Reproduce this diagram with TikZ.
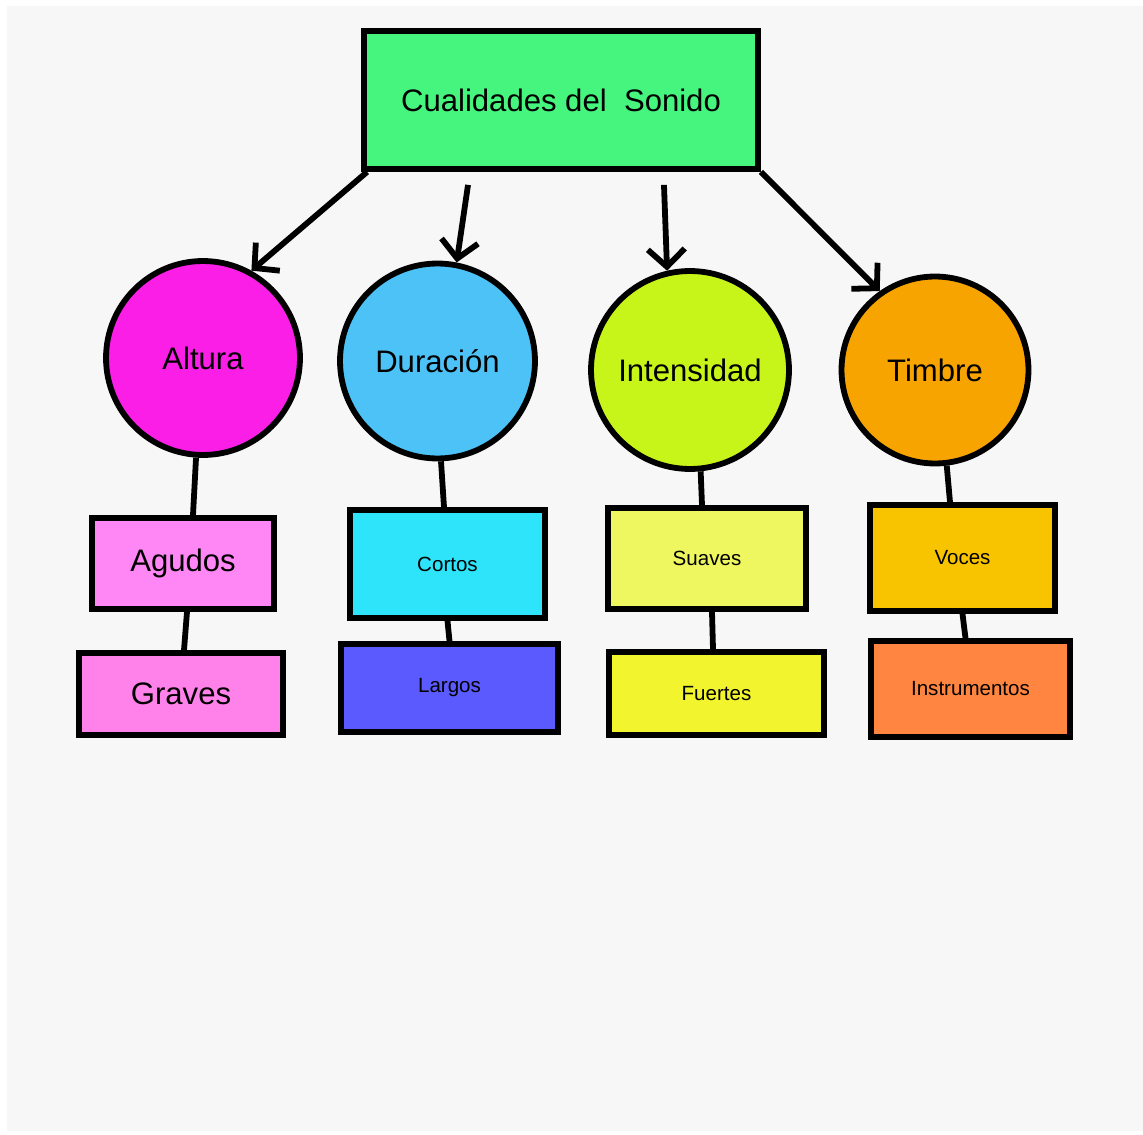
\documentclass[tikz,border=0pt]{standalone}
\usepackage{fontspec}
\setmainfont{Liberation Sans}
\usetikzlibrary{arrows.meta}
\definecolor{fondo}{RGB}{247,247,247}
\definecolor{verde}{RGB}{70,245,125}
\definecolor{magenta}{RGB}{250,30,230}
\definecolor{celeste}{RGB}{77,194,247}
\definecolor{lima}{RGB}{200,245,25}
\definecolor{naranja}{RGB}{247,163,0}
\definecolor{rosa}{RGB}{255,135,245}
\definecolor{rosab}{RGB}{255,130,235}
\definecolor{cian}{RGB}{45,228,250}
\definecolor{azul}{RGB}{90,90,255}
\definecolor{amarillo}{RGB}{238,247,95}
\definecolor{amarillob}{RGB}{242,245,45}
\definecolor{oro}{RGB}{248,196,0}
\definecolor{coral}{RGB}{255,133,64}
\tikzset{
  caja/.style={draw, line width=3.3pt, inner sep=0pt},
  circulo/.style={caja, circle},
  grande/.style={font=\fontsize{17.7}{20}\selectfont},
  chica/.style={font=\fontsize{11.7}{14}\selectfont},
  linea/.style={line width=3.3pt},
  flecha/.style={linea, -{Straight Barb[length=10pt,width=21pt]}}
}
\begin{document}
\begin{tikzpicture}[x=0.02cm,y=-0.02cm]

\useasboundingbox (0,0) rectangle (1143,1135);
\fill[fondo] (7,6) rectangle (1143,1131);
\node[caja, grande, fill=verde, minimum width=7.88cm, minimum height=2.76cm] (cual) at (561,100) {Cualidades del~~Sonido};
\node[circulo, grande, fill=magenta, minimum size=3.88cm] (alt) at (203,358) {Altura};
\node[circulo, grande, fill=celeste, minimum size=3.9cm] (dur) at (437.5,361) {Duración};
\node[circulo, grande, fill=lima, minimum size=3.96cm] (int) at (690,370) {Intensidad};
\node[circulo, grande, fill=naranja, minimum size=3.74cm] (tim) at (935,370) {Timbre};
\node[caja, grande, fill=rosa, minimum width=3.64cm, minimum height=1.82cm] (agu) at (183,563.5) {Agudos};
\node[caja, grande, fill=rosab, minimum width=4.08cm, minimum height=1.64cm] (gra) at (181,694) {Graves};
\node[caja, chica, fill=cian, minimum width=3.9cm, minimum height=2.16cm] (cor) at (447.5,564) {Cortos};
\node[caja, chica, fill=azul, minimum width=4.34cm, minimum height=1.76cm] (lar) at (449.5,688) {Largos};
\node[caja, chica, fill=amarillo, minimum width=3.96cm, minimum height=2.02cm] (sua) at (707,558.5) {Suaves};
\node[caja, chica, fill=amarillob, minimum width=4.3cm, minimum height=1.66cm] (fue) at (716.5,693.5) {Fuertes};
\node[caja, chica, fill=oro, minimum width=3.7cm, minimum height=2.12cm] (voc) at (962.5,558) {Voces};
\node[caja, chica, fill=coral, minimum width=3.98cm, minimum height=1.92cm] (ins) at (970.5,689) {Instrumentos};
\draw[flecha] ([xshift=0.12cm]cual.south west) -- (alt.61);
\draw[flecha] ([xshift=-1.86cm,yshift=-0.26cm]cual.south) -- (dur.79);
\draw[flecha] ([xshift=2.06cm,yshift=-0.26cm]cual.south) -- (int.103);
\draw[flecha] (cual.south east) -- (tim.125);
\draw[linea] (alt.266) -- ([xshift=0.2cm]agu.north);
\draw[linea] ([xshift=0.08cm]agu.south) -- ([xshift=0.06cm]gra.north);
\draw[linea] (dur.272) -- ([xshift=-0.07cm]cor.north);
\draw[linea] (cor.south) -- (lar.north);
\draw[linea] (int.276) -- ([xshift=-0.1cm]sua.north);
\draw[linea] ([xshift=0.1cm]sua.south) -- ([xshift=-0.07cm]fue.north);
\draw[linea] (tim.277) -- ([xshift=-0.25cm]voc.north);
\draw[linea] (voc.south) -- ([xshift=-0.1cm]ins.north);
\end{tikzpicture}
\end{document}
